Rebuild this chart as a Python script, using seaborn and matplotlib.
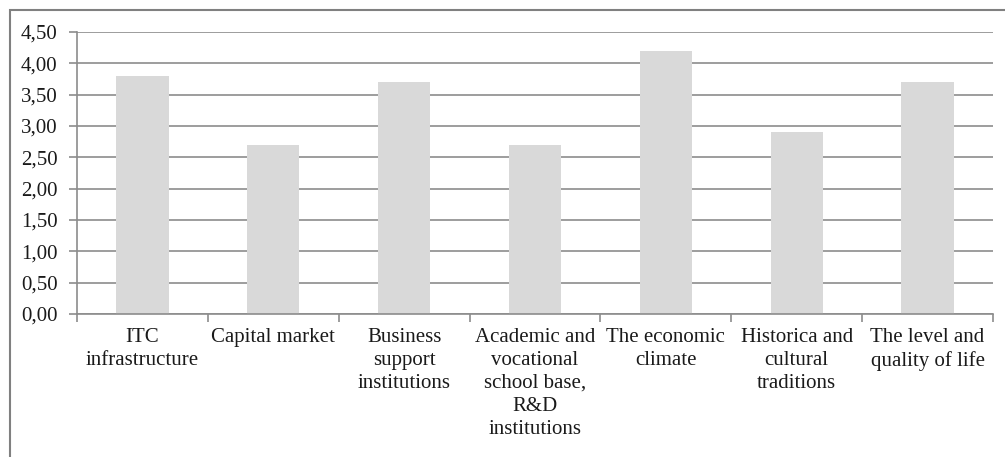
import matplotlib
matplotlib.use("Agg")
import matplotlib.pyplot as plt
import seaborn as sns
import numpy as np
from matplotlib.patches import Rectangle
from matplotlib.ticker import FixedLocator, FuncFormatter

categories = ["ITC\ninfrastructure", "Capital market", "Business\nsupport\ninstitutions",
              "Academic and\nvocational\nschool base,\nR&D\ninstitutions", "The economic\nclimate",
              "Historica and\ncultural\ntraditions", "The level and\nquality of life"]
values = [3.80, 2.70, 3.70, 2.70, 4.20, 2.90, 3.70]
yticks = [0.0, 0.5, 1.0, 1.5, 2.0, 2.5, 3.0, 3.5, 4.0, 4.5]

sns.set_theme(style="white")
plt.rcParams['font.family'] = ['Liberation Serif', 'DejaVu Serif']

W, H = 1005, 457
fig = plt.figure(figsize=(W / 100, H / 100), dpi=100)
ax = fig.add_axes([77 / W, 1 - 314 / H, (993 - 77) / W, (314 - 32) / H])

sns.barplot(x=categories, y=values, color="#d9d9d9", saturation=1, width=0.4, ax=ax,
            edgecolor="none")

ax.set_ylim(0, 4.5)
ax.set_xlim(-0.5, len(categories) - 0.5)
ax.set_yticks(yticks)
ax.yaxis.set_major_formatter(FuncFormatter(lambda v, p: f"{v:.2f}".replace(".", ",")))
ax.grid(axis="y", color="#8c8c8c", linewidth=1.2)
ax.set_axisbelow(True)

for s in ["top", "right"]:
    ax.spines[s].set_visible(False)
for s in ["left", "bottom"]:
    ax.spines[s].set_color("#8c8c8c")
    ax.spines[s].set_linewidth(1.2)

ax.tick_params(axis="y", which="major", left=True, length=6, width=1.2, color="#8c8c8c",
               labelsize=15, labelcolor="#1a1a1a", pad=8)
ax.tick_params(axis="x", which="major", bottom=False, length=0, labelsize=15,
               labelcolor="#1a1a1a", pad=10)
ax.xaxis.set_minor_locator(FixedLocator(np.arange(-0.5, len(categories), 1.0)))
ax.tick_params(axis="x", which="minor", bottom=True, length=6, width=1.2, color="#8c8c8c")
for lab in ax.get_xticklabels():
    lab.set_linespacing(1.28)
    lab.set_ha("center")
    lab.set_multialignment("center")

ax.set_xlabel("")
ax.set_ylabel("")

fig.patches.append(Rectangle((10 / W, -0.5), 2.0, 1 - 10 / H + 0.5, transform=fig.transFigure,
                             fill=False, edgecolor="#808080", linewidth=1.5, figure=fig))

fig.savefig("out.png", dpi=100)
